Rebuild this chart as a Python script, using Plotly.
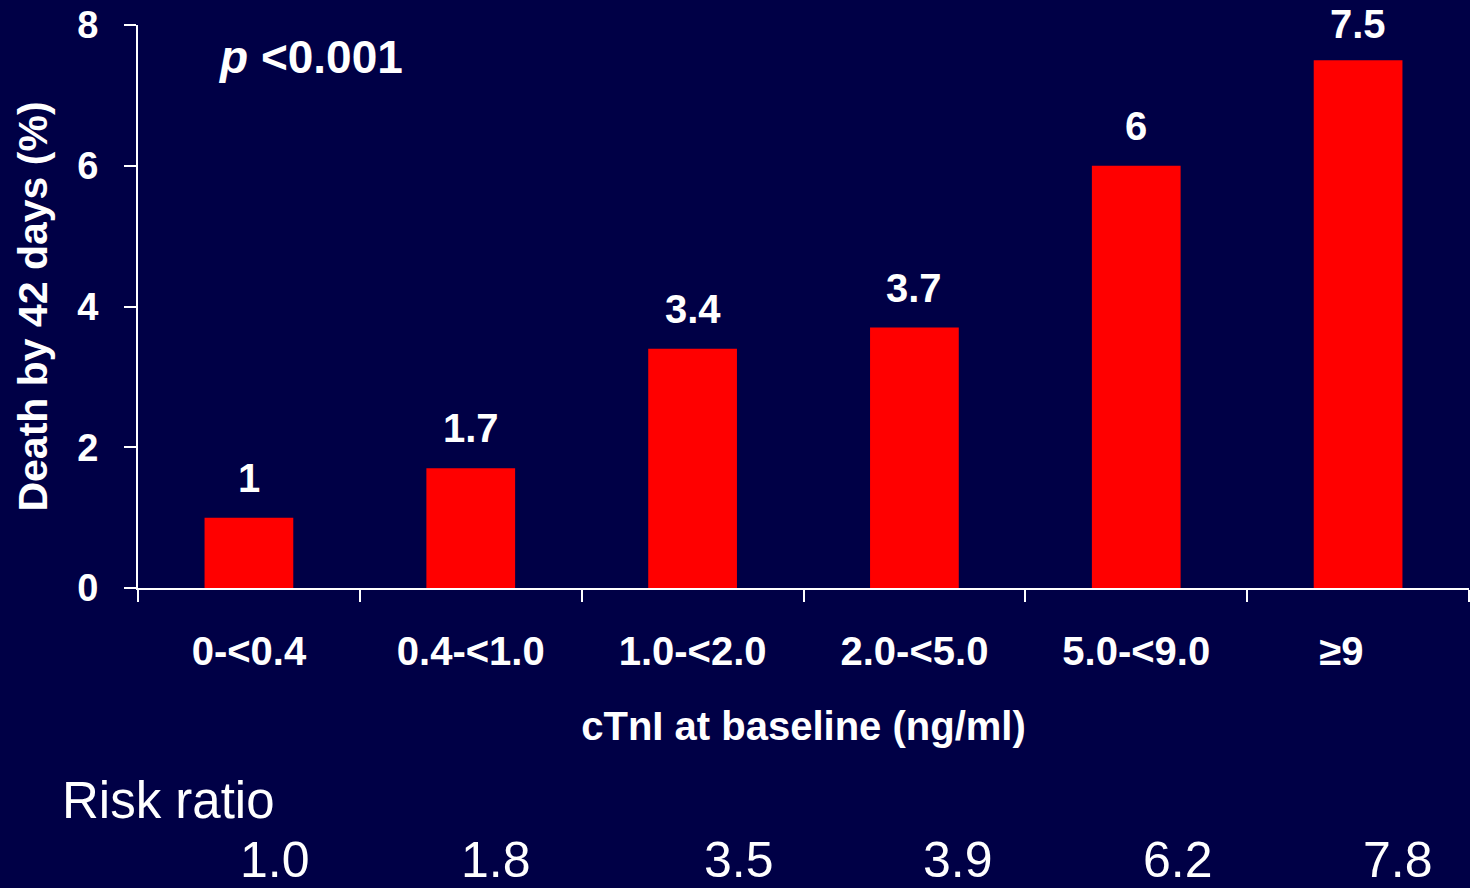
import plotly.graph_objects as go

# cTnI strata and 42-day mortality
categories = ["0-<0.4", "0.4-<1.0", "1.0-<2.0", "2.0-<5.0", "5.0-<9.0", "≥9"]
death_pct = [1, 1.7, 3.4, 3.7, 6, 7.5]
value_labels = ["1", "1.7", "3.4", "3.7", "6", "7.5"]
risk_ratio = ["1.0", "1.8", "3.5", "3.9", "6.2", "7.8"]
y_ticks = [0, 2, 4, 6, 8]

BG = "#000046"
FONT = "Liberation Sans, Arial, sans-serif"


def esc(s):
    return s.replace("<", "&lt;")


cat_text = [esc(c) for c in categories]

fig = go.Figure(
    go.Bar(
        x=cat_text,
        y=death_pct,
        marker=dict(color="#FF0000", line=dict(width=0)),
        width=0.4,
        hoverinfo="skip",
    )
)

annotations = []
# value labels above each bar (the tallest one sits a little closer)
label_shift = [40, 40, 40, 40, 40, 36]
for i, (v, lab) in enumerate(zip(death_pct, value_labels)):
    annotations.append(dict(
        x=cat_text[i], y=v, xref="x", yref="y", text=f"<b>{lab}</b>",
        showarrow=False, yanchor="middle", yshift=label_shift[i],
        font=dict(family=FONT, size=40, color="white"),
    ))

annotations.append(dict(
    x=0, y=1, xref="paper", yref="paper", xanchor="left", yanchor="middle",
    xshift=78, yshift=-32, showarrow=False,
    text="<b><i>p</i> &lt;0.001</b>",
    font=dict(family=FONT, size=46, color="white"),
))

annotations.append(dict(
    x=0, y=0, xref="paper", yref="paper", xanchor="left", yanchor="middle",
    xshift=-78, yshift=-212, showarrow=False, text="Risk ratio",
    font=dict(family=FONT, size=51, color="white"),
))

# risk ratio row, offset slightly right of each category centre
rr_shift = [26, 25, 46, 44, 42, 40]
for i, rr in enumerate(risk_ratio):
    annotations.append(dict(
        x=cat_text[i], y=0, xref="x", yref="paper", yanchor="middle",
        xshift=rr_shift[i], yshift=-272, showarrow=False, text=rr,
        font=dict(family=FONT, size=50, color="white"),
    ))

# last tick label sits a bit left of its category centre
tick_labels = [f"<b>{c}</b>" for c in cat_text]
tick_labels[-1] = f"<b>{cat_text[-1]}</b>\u00a0\u00a0\u00a0"

fig.update_layout(
    width=1470, height=888,
    margin=dict(l=138, r=1, t=25, b=300, pad=0),
    paper_bgcolor=BG, plot_bgcolor=BG,
    showlegend=False,
    font=dict(family=FONT, color="white"),
    annotations=annotations,
    xaxis=dict(
        type="category",
        range=[-0.5, 5.5],
        tickmode="array",
        tickvals=cat_text,
        ticktext=tick_labels,
        tickson="boundaries",
        ticks="outside", ticklen=12, tickwidth=2, tickcolor="white",
        ticklabelstandoff=27,
        showline=True, linecolor="white", linewidth=2,
        showgrid=False, zeroline=False,
        tickfont=dict(family=FONT, size=40, color="white"),
        title=dict(text="<b>cTnI at baseline (ng/ml)</b>",
                   font=dict(family=FONT, size=40, color="white"),
                   standoff=40),
        automargin=False,
    ),
    yaxis=dict(
        range=[0, 8],
        tickmode="array",
        tickvals=y_ticks,
        ticktext=[f"<b>{t}</b>" for t in y_ticks],
        ticks="outside", ticklen=12, tickwidth=2, tickcolor="white",
        ticklabelstandoff=18,
        showline=True, linecolor="white", linewidth=2,
        showgrid=False, zeroline=False,
        tickfont=dict(family=FONT, size=38, color="white"),
        title=dict(text="<b>Death by 42 days (%)</b>",
                   font=dict(family=FONT, size=41, color="white"),
                   standoff=17),
        automargin=False,
    ),
)

fig.write_html("out.html", config={"displayModeBar": False})
